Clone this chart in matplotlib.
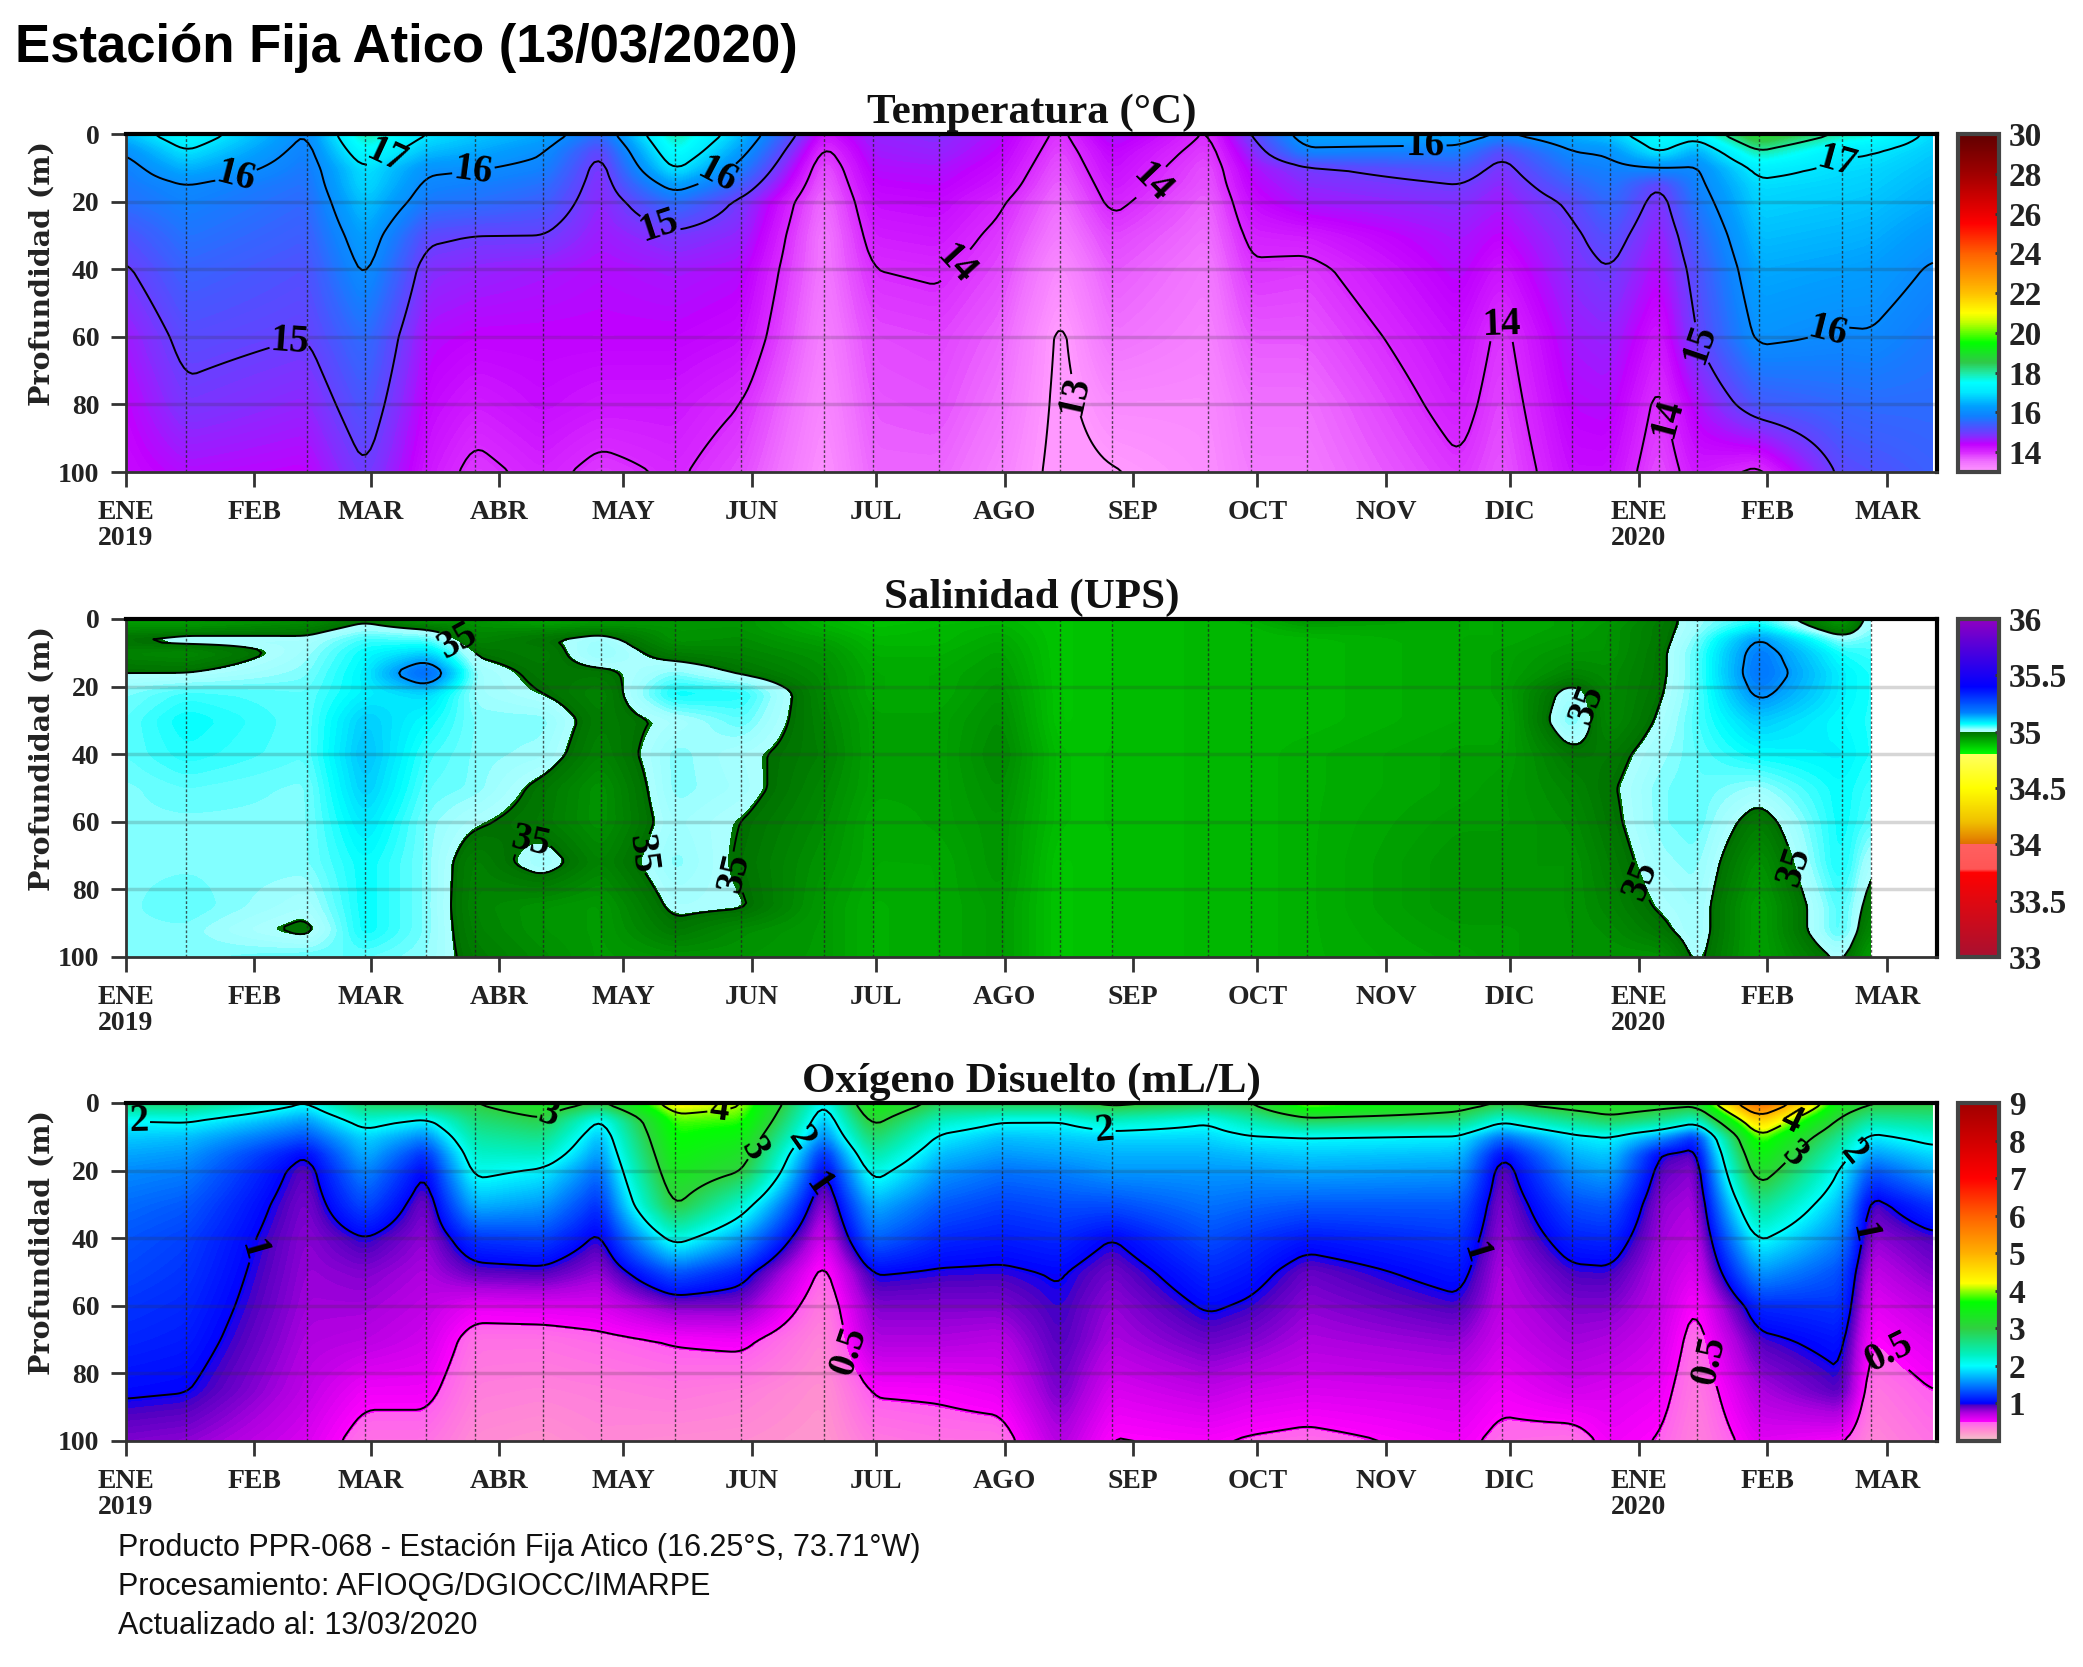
import matplotlib
matplotlib.use("Agg")
import matplotlib.pyplot as plt
import numpy as np
from matplotlib.cm import ScalarMappable
from matplotlib.colors import LinearSegmentedColormap, Normalize

plt.rcParams['font.family'] = ['Liberation Serif', 'DejaVu Serif']
plt.rcParams['font.weight'] = 'bold'

# dias desde 01/01/2019 de cada salida
days = [0, 14.5, 43.6, 57.7, 72.5, 84.3, 100.6, 114.5, 132.5, 148.5, 168.5, 180.3, 196.3, 211.3, 225.4,
        238, 261.2, 271.4, 285, 321.7, 332, 349, 358, 370, 379, 394, 414, 421, 436]
month_days = [0, 31, 59, 90, 120, 151, 181, 212, 243, 273, 304, 334, 365, 396, 425]
month_labels = ['ENE\n2019', 'FEB', 'MAR', 'ABR', 'MAY', 'JUN', 'JUL', 'AGO', 'SEP', 'OCT', 'NOV', 'DIC',
                'ENE\n2020', 'FEB', 'MAR']

depth_t = [0, 5, 10, 15, 20, 30, 40, 60, 80, 100]
temp = [
    [16.6, 16.05, 15.8, 15.7, 15.6, 15.2, 14.95, 14.6, 14.4, 14.3],
    [17.5, 17.0, 16.5, 16.0, 15.85, 15.65, 15.45, 15.15, 14.9, 14.5],
    [15.95, 15.8, 15.7, 15.6, 15.5, 15.35, 15.2, 15.0, 14.7, 14.4],
    [18.0, 17.5, 17.0, 16.9, 16.7, 16.35, 16.1, 15.6, 15.3, 14.98],
    [17.0, 16.6, 16.1, 15.9, 15.7, 15.1, 14.8, 14.5, 14.35, 14.2],
    [16.7, 16.4, 16.05, 15.8, 15.6, 15.0, 14.7, 14.4, 14.15, 13.9],
    [16.4, 16.05, 15.85, 15.6, 15.4, 15.0, 14.6, 14.4, 14.3, 14.1],
    [15.5, 15.0, 14.8, 14.75, 14.7, 14.6, 14.5, 14.4, 14.2, 13.9],
    [18.0, 17.6, 17.1, 16.3, 15.6, 14.9, 14.6, 14.4, 14.2, 14.05],
    [16.6, 16.2, 15.8, 15.35, 14.9, 14.7, 14.5, 14.3, 14.0, 13.8],
    [14.2, 13.9, 13.7, 13.6, 13.5, 13.4, 13.4, 13.3, 13.2, 13.1],
    [14.7, 14.6, 14.5, 14.4, 14.3, 14.15, 14.0, 13.8, 13.7, 13.6],
    [14.8, 14.7, 14.55, 14.45, 14.35, 14.2, 14.05, 13.85, 13.75, 13.6],
    [14.5, 14.4, 14.3, 14.2, 14.05, 13.9, 13.8, 13.6, 13.45, 13.3],
    [13.9, 13.8, 13.7, 13.6, 13.5, 13.35, 13.15, 12.92, 12.9, 12.87],
    [14.6, 14.4, 14.3, 14.2, 14.1, 13.85, 13.7, 13.5, 13.2, 12.98],
    [13.95, 13.85, 13.75, 13.7, 13.6, 13.5, 13.4, 13.3, 13.2, 13.15],
    [15.0, 14.7, 14.5, 14.4, 14.3, 14.1, 13.95, 13.7, 13.5, 13.4],
    [16.4, 15.9, 14.95, 14.75, 14.6, 14.15, 13.9, 13.7, 13.5, 13.4],
    [16.4, 15.8, 15.3, 15.0, 14.8, 14.6, 14.5, 14.3, 14.15, 13.95],
    [15.95, 15.1, 14.85, 14.7, 14.6, 14.4, 14.2, 13.9, 13.8, 13.7],
    [16.5, 16.0, 15.7, 15.4, 15.1, 14.9, 14.8, 14.6, 14.45, 14.3],
    [16.7, 16.1, 15.85, 15.7, 15.55, 15.25, 15.0, 14.7, 14.5, 14.3],
    [17.6, 17.1, 16.0, 15.0, 14.8, 14.6, 14.45, 14.15, 13.9, 13.75],
    [17.3, 16.4, 15.95, 15.85, 15.7, 15.4, 15.2, 15.0, 14.5, 14.2],
    [19.0, 18.0, 17.2, 16.9, 16.8, 16.6, 16.4, 16.1, 15.3, 13.9],
    [17.9, 17.1, 16.9, 16.8, 16.7, 16.5, 16.3, 15.95, 15.5, 15.1],
    [17.7, 17.05, 16.85, 16.75, 16.65, 16.45, 16.25, 15.97, 15.55, 15.2],
    [16.85, 16.7, 16.6, 16.5, 16.4, 16.15, 15.95, 15.7, 15.55, 15.4],
]

# salinidad llega solo hasta la salida de marzo 2020 (sin la ultima columna)
depth_s = [0, 3, 6, 10, 16, 22, 30, 40, 50, 60, 72, 85, 92, 100]
sal = [
    [34.93, 34.96, 35.0, 34.97, 35.0, 35.03, 35.04, 35.04, 35.03, 35.03, 35.03, 35.03, 35.03, 35.03],
    [34.93, 34.96, 35.02, 34.96, 35.0, 35.05, 35.07, 35.06, 35.04, 35.03, 35.03, 35.04, 35.03, 35.03],
    [34.95, 34.98, 35.01, 35.02, 35.03, 35.04, 35.04, 35.04, 35.03, 35.03, 35.03, 35.01, 34.99, 35.04],
    [34.99, 35.02, 35.05, 35.07, 35.08, 35.08, 35.11, 35.12, 35.11, 35.09, 35.07, 35.07, 35.07, 35.04],
    [34.93, 35.0, 35.04, 35.1, 35.22, 35.1, 35.07, 35.05, 35.04, 35.03, 35.03, 35.03, 35.03, 35.025],
    [34.95, 34.96, 34.97, 34.995, 35.02, 35.02, 35.03, 35.03, 35.03, 35.005, 34.975, 34.97, 34.975, 34.985],
    [34.91, 34.96, 34.995, 34.98, 34.99, 35.0, 35.03, 35.02, 34.99, 34.985, 35.02, 34.95, 34.95, 34.96],
    [34.93, 34.97, 35.02, 35.03, 34.99, 34.97, 34.98, 34.97, 34.95, 34.95, 34.97, 34.94, 34.94, 34.94],
    [34.94, 34.95, 34.95, 34.98, 35.03, 35.07, 35.01, 35.03, 35.03, 35.02, 35.03, 35.01, 34.99, 34.95],
    [34.95, 34.95, 34.96, 34.97, 34.995, 35.06, 35.04, 35.01, 35.015, 35.0, 34.995, 35.005, 34.96, 34.95],
    [34.9, 34.91, 34.93, 34.95, 34.96, 34.963, 34.97, 34.978, 34.967, 34.96, 34.95, 34.94, 34.94, 34.94],
    [34.88, 34.89, 34.9, 34.91, 34.92, 34.92, 34.93, 34.93, 34.93, 34.92, 34.92, 34.91, 34.91, 34.91],
    [34.89, 34.9, 34.9, 34.91, 34.92, 34.92, 34.93, 34.93, 34.93, 34.93, 34.92, 34.92, 34.92, 34.92],
    [34.9, 34.91, 34.92, 34.93, 34.94, 34.95, 34.96, 34.97, 34.96, 34.95, 34.95, 34.94, 34.94, 34.94],
    [34.88, 34.88, 34.88, 34.88, 34.88, 34.88, 34.88, 34.89, 34.89, 34.89, 34.88, 34.88, 34.88, 34.88],
    [34.89, 34.89, 34.89, 34.89, 34.89, 34.89, 34.89, 34.89, 34.89, 34.89, 34.89, 34.89, 34.89, 34.89],
    [34.9, 34.9, 34.9, 34.9, 34.9, 34.9, 34.9, 34.9, 34.9, 34.9, 34.9, 34.9, 34.9, 34.9],
    [34.91, 34.9, 34.9, 34.9, 34.9, 34.9, 34.9, 34.9, 34.9, 34.9, 34.9, 34.9, 34.9, 34.9],
    [34.95, 34.92, 34.9, 34.9, 34.9, 34.9, 34.9, 34.91, 34.91, 34.91, 34.91, 34.91, 34.91, 34.91],
    [34.92, 34.92, 34.92, 34.92, 34.92, 34.92, 34.92, 34.93, 34.93, 34.94, 34.95, 34.95, 34.94, 34.93],
    [34.92, 34.92, 34.92, 34.93, 34.93, 34.93, 34.92, 34.93, 34.94, 34.94, 34.95, 34.95, 34.94, 34.94],
    [34.93, 34.93, 34.94, 34.95, 34.97, 35.02, 35.04, 34.99, 34.97, 34.96, 34.95, 34.95, 34.95, 34.95],
    [34.94, 34.95, 34.95, 34.95, 34.96, 34.96, 34.96, 34.985, 34.995, 34.99, 34.98, 34.97, 34.96, 34.95],
    [34.98, 34.985, 34.985, 34.99, 34.99, 34.995, 35.005, 35.02, 35.03, 35.03, 35.02, 35.005, 34.99, 34.95],
    [35.02, 35.02, 35.03, 35.04, 35.04, 35.04, 35.045, 35.04, 35.04, 35.04, 35.03, 35.02, 35.02, 35.01],
    [35.05, 35.09, 35.155, 35.18, 35.19, 35.165, 35.11, 35.07, 35.02, 34.98, 34.95, 34.93, 34.93, 34.93],
    [34.93, 34.96, 35.02, 35.06, 35.08, 35.08, 35.07, 35.08, 35.07, 35.07, 35.07, 35.05, 35.05, 35.01],
    [35.02, 35.03, 35.04, 35.05, 35.06, 35.06, 35.06, 35.06, 35.05, 35.04, 35.005, 34.98, 34.96, 34.93],
]

depth_o = [0, 5, 10, 15, 20, 30, 40, 50, 60, 70, 85, 100]
oxy = [
    [2.7, 2.0, 1.8, 1.65, 1.55, 1.42, 1.33, 1.27, 1.2, 1.14, 1.03, 0.85],
    [2.7, 2.05, 1.75, 1.6, 1.5, 1.35, 1.25, 1.2, 1.15, 1.1, 1.01, 0.82],
    [2.0, 1.6, 1.3, 1.0, 0.9, 0.85, 0.82, 0.8, 0.78, 0.75, 0.7, 0.62],
    [2.8, 2.2, 1.85, 1.7, 1.55, 1.3, 1.0, 0.85, 0.78, 0.72, 0.55, 0.42],
    [2.9, 1.95, 1.5, 1.15, 0.98, 0.85, 0.8, 0.75, 0.7, 0.65, 0.55, 0.42],
    [3.0, 2.7, 2.45, 2.25, 2.1, 1.7, 1.2, 0.92, 0.58, 0.42, 0.35, 0.28],
    [3.4, 2.95, 2.6, 2.3, 1.95, 1.6, 1.25, 0.95, 0.6, 0.42, 0.33, 0.25],
    [2.95, 1.95, 1.7, 1.55, 1.4, 1.15, 0.95, 0.8, 0.62, 0.46, 0.35, 0.3],
    [4.3, 3.85, 3.7, 3.55, 3.4, 3.05, 2.15, 1.35, 0.85, 0.52, 0.38, 0.28],
    [4.05, 3.8, 3.5, 3.25, 3.02, 2.2, 1.6, 1.1, 0.85, 0.55, 0.35, 0.27],
    [1.95, 1.7, 1.45, 1.1, 0.92, 0.75, 0.6, 0.44, 0.35, 0.3, 0.25, 0.22],
    [3.6, 3.15, 2.8, 2.45, 2.15, 1.7, 1.4, 1.02, 0.85, 0.75, 0.52, 0.38],
    [2.85, 2.3, 1.95, 1.75, 1.6, 1.35, 1.15, 0.98, 0.85, 0.75, 0.53, 0.42],
    [2.9, 2.05, 1.75, 1.6, 1.45, 1.25, 1.1, 0.97, 0.85, 0.72, 0.58, 0.42],
    [2.9, 2.03, 1.8, 1.65, 1.5, 1.3, 1.15, 1.02, 0.98, 0.95, 0.88, 0.75],
    [3.15, 2.3, 1.85, 1.7, 1.6, 1.3, 1.0, 0.88, 0.8, 0.75, 0.62, 0.49],
    [2.9, 2.05, 1.85, 1.7, 1.6, 1.45, 1.3, 1.15, 1.03, 0.9, 0.7, 0.52],
    [3.0, 2.4, 1.97, 1.75, 1.6, 1.4, 1.2, 1.08, 0.97, 0.85, 0.65, 0.48],
    [4.05, 2.85, 2.0, 1.8, 1.65, 1.35, 1.08, 0.9, 0.82, 0.75, 0.62, 0.45],
    [3.3, 2.7, 1.95, 1.75, 1.6, 1.35, 1.2, 1.08, 0.96, 0.82, 0.65, 0.55],
    [3.0, 2.1, 1.4, 1.0, 0.88, 0.82, 0.78, 0.73, 0.7, 0.65, 0.55, 0.45],
    [3.3, 2.6, 1.9, 1.7, 1.55, 1.3, 1.12, 0.96, 0.85, 0.78, 0.65, 0.42],
    [3.4, 2.85, 2.0, 1.8, 1.65, 1.35, 1.15, 0.97, 0.85, 0.75, 0.62, 0.55],
    [3.25, 2.6, 1.6, 1.0, 0.92, 0.82, 0.78, 0.73, 0.7, 0.65, 0.57, 0.49],
    [3.2, 2.2, 1.15, 0.92, 0.82, 0.75, 0.68, 0.6, 0.49, 0.42, 0.37, 0.33],
    [6.0, 4.7, 3.95, 3.6, 3.3, 2.6, 2.05, 1.6, 1.15, 0.95, 0.75, 0.6],
    [3.4, 2.9, 2.5, 2.2, 1.95, 1.7, 1.5, 1.3, 1.2, 1.08, 0.95, 0.52],
    [3.05, 2.45, 1.9, 1.6, 1.3, 0.92, 0.8, 0.68, 0.58, 0.49, 0.38, 0.3],
    [3.0, 2.55, 2.15, 1.85, 1.65, 1.2, 0.95, 0.85, 0.72, 0.62, 0.5, 0.42],
]

# rotulos de las isolineas: nivel -> (dia, profundidad)
t_labels = {13: [(230, 77)],
            14: [(202, 41), (248, 15), (333, 51), (372, 84)],
            15: [(39.4, 60.6), (130.4, 21.7), (379.5, 62)],
            16: [(26, 9.5), (84, 12.6), (143, 12.6), (313.5, 4.7), (411.5, 61)],
            17: [(63, 7), (412.5, 7)]}
s_labels = {35: [(80.4, 6), (98, 67), (127, 71), (147, 75), (350, 26), (366, 77), (403, 73)]}
o_labels = {0.5: [(175, 73), (383, 76), (426, 73)],
            1: [(31, 44), (166, 24), (326.6, 45), (421, 39)],
            2: [(3, 5), (161, 9), (236, 8), (416, 14)],
            3: [(102, 3.5), (152, 14), (403, 16)],
            4: [(143, 1.5), (402, 5.5)]}

t_cmap = LinearSegmentedColormap.from_list('t', [(0.0, '#ff98ff'), (0.03, '#f070ff'), (0.059, '#d828ff'),
    (0.082, '#c000ff'), (0.106, '#8030ff'), (0.129, '#5050ff'), (0.165, '#1080ff'), (0.194, '#00a0ff'),
    (0.235, '#00e8ff'), (0.265, '#00ffff'), (0.294, '#20e8a0'), (0.324, '#30c848'), (0.382, '#00ff00'),
    (0.441, '#c0ff00'), (0.471, '#ffff00'), (0.529, '#ffc000'), (0.647, '#ff6000'), (0.735, '#ff0000'),
    (0.882, '#a00000'), (1.0, '#600000')], N=512)
s_cmap = LinearSegmentedColormap.from_list('s', [(0.0, '#a81030'), (0.167, '#e00810'), (0.25, '#ff0000'),
    (0.26, '#ff5555'), (0.3333, '#ff6060'), (0.3333, '#e07000'), (0.4, '#f0c000'), (0.5, '#ffff00'),
    (0.6, '#ffff60'), (0.6, '#00ff00'), (0.6667, '#007000'), (0.6667, '#b0ffff'), (0.6733, '#a0ffff'),
    (0.69, '#00ffff'), (0.7233, '#0080ff'), (0.8, '#0000ff'), (1.0, '#9000c0')], N=1024)
o_cmap = LinearSegmentedColormap.from_list('o', [(0.0, '#f0c8c8'), (0.028, '#ff90d0'), (0.0555, '#ff60f0'),
    (0.0555, '#ff00ff'), (0.083, '#b000e0'), (0.105, '#5000c0'), (0.111, '#0000ff'), (0.167, '#0080ff'),
    (0.222, '#00ffff'), (0.256, '#00f0c0'), (0.333, '#30d040'), (0.411, '#00ff00'), (0.467, '#ffff00'),
    (0.556, '#ffb000'), (0.667, '#ff6000'), (0.778, '#ff0000'), (0.889, '#d00000'), (1.0, '#a00000')], N=1024)

W, H = 2083, 1667
fig = plt.figure(figsize=(W / 100, H / 100), dpi=100)
DARK = '#333333'


def soften(station_days, depth, values):
    # redondea las esquinas de las isolineas: pasa a malla de 1 dia x 1 m y promedia un poco
    x = np.arange(station_days[0], station_days[-1] + 0.5, 1.0)
    y = np.arange(0, 101, 1.0)
    z = np.array(values).T
    z = np.array([np.interp(x, station_days, row) for row in z])
    z = np.array([np.interp(y, depth, col) for col in z.T]).T
    for kernel, axis in [(5, 1), (3, 0)]:
        pad = kernel // 2
        pads = [(pad, pad) if a == axis else (0, 0) for a in (0, 1)]
        z = np.apply_along_axis(lambda v: np.convolve(v, np.ones(kernel) / kernel, 'valid'), axis,
                                np.pad(z, pads, mode='edge'))
    return x, y, z


def draw_panel(top, title, depth, values, station_days, cmap, vmin, vmax, line_levels, labels, bar_ticks, bar_labels):
    ax = fig.add_axes([126 / W, 1 - (top + 338) / H, 1811 / W, 338 / H])
    x, y, grid = soften(station_days, depth, values)
    fill = np.linspace(vmin, vmax, 401)
    ax.contourf(x, y, grid, levels=fill, cmap=cmap, vmin=vmin, vmax=vmax, extend='both')
    for lev in line_levels:
        cs = ax.contour(x, y, grid, levels=[lev], colors='black', linewidths=1.4)
        if lev in labels:
            ax.clabel(cs, fmt=lambda v: f"{v:g}", manual=labels[lev], fontsize=28, inline=True,
                      inline_spacing=2, colors='black')

    # lineas de malla y de cada salida
    for d in [20, 40, 60, 80]:
        ax.axhline(d, color='#333333', lw=2.5, alpha=0.2)
    for d in days[1:-1]:
        ax.axvline(d, color='#222222', lw=1.0, ls=(0, (2, 1.5)), alpha=0.75)

    ax.set_xlim(0, 437)
    ax.set_ylim(100, 0)
    ax.set_yticks([0, 20, 40, 60, 80, 100])
    ax.set_xticks(month_days)
    ax.set_xticklabels(month_labels, fontsize=20, color='#222222', linespacing=1.05)
    ax.tick_params(axis='y', labelsize=20, length=11, width=2, color=DARK, pad=8, labelcolor='#222222')
    ax.tick_params(axis='x', length=11, width=2, color=DARK, pad=9)
    ax.set_ylabel('Profundidad (m)', fontsize=20.5, fontweight='bold', family='DejaVu Serif', color='#222222')
    ax.yaxis.set_label_coords(-0.039, 0.587)
    ax.spines['left'].set(color=DARK, lw=2)
    ax.spines['bottom'].set(color=DARK, lw=2)
    ax.spines['top'].set(color='black', lw=3)
    ax.spines['right'].set(color='black', lw=3)
    ax.set_title(title, fontsize=31, fontweight='bold', pad=8, color='#111111')

    cax = fig.add_axes([1958 / W, 1 - (top + 338) / H, 41 / W, 338 / H])
    cb = fig.colorbar(ScalarMappable(Normalize(vmin, vmax), cmap), cax=cax, ticks=bar_ticks)
    cb.ax.set_yticklabels(bar_labels, fontsize=24, color='#222222')
    cb.ax.tick_params(length=3, width=2, direction='in', color=DARK, pad=7)
    cb.outline.set_edgecolor('#444444')
    cb.outline.set_linewidth(3)
    return ax


draw_panel(134, 'Temperatura (°C)', depth_t, temp, days, t_cmap, 13, 30,
           [13, 14, 15, 16, 17, 18], t_labels,
           list(range(14, 31, 2)), [str(v) for v in range(14, 31, 2)])
draw_panel(619, 'Salinidad (UPS)', depth_s, sal, days[:-1], s_cmap, 33, 36,
           [35, 35.15], s_labels,
           [33, 33.5, 34, 34.5, 35, 35.5, 36], ['33', '33.5', '34', '34.5', '35', '35.5', '36'])
draw_panel(1103, 'Oxígeno Disuelto (mL/L)', depth_o, oxy, days, o_cmap, 0, 9,
           [0.5, 1, 2, 3, 4, 5], o_labels,
           list(range(1, 10)), [str(v) for v in range(1, 10)])

fig.text(15 / W, 1 - 48 / H, 'Estación Fija Atico (13/03/2020)', fontsize=38, fontweight='bold',
         family='Liberation Sans', va='center', color='black')
foot = ['Producto PPR-068 - Estación Fija Atico (16.25°S, 73.71°W)',
        'Procesamiento: AFIOQG/DGIOCC/IMARPE',
        'Actualizado al: 13/03/2020']
for y, line in zip([1548, 1587, 1626], foot):
    fig.text(118 / W, 1 - y / H, line, fontsize=22, fontweight='normal', family='Liberation Sans',
             va='center', color='#111111')

fig.savefig('out.png', dpi=100)
